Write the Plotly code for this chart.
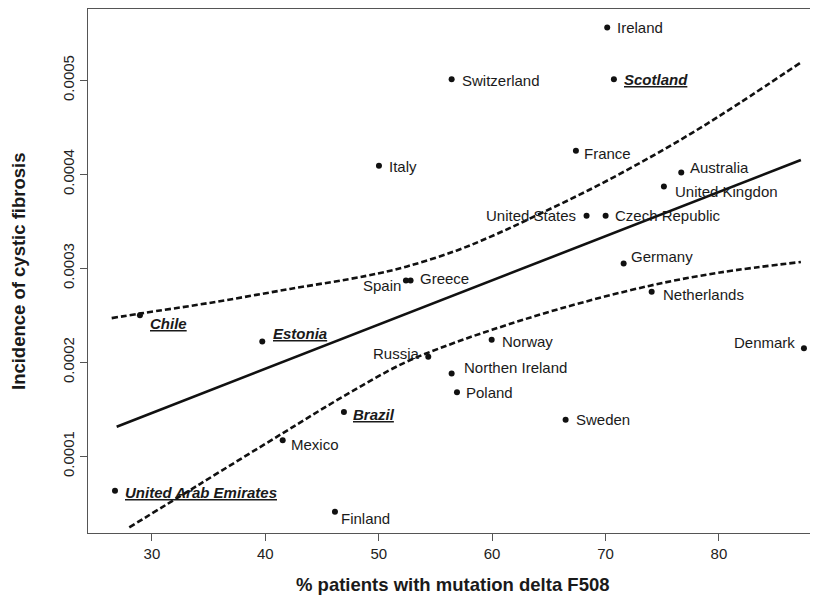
import plotly.graph_objects as go

# ---- data ----
countries = ["Ireland", "Switzerland", "Scotland", "France", "Italy", "Australia",
             "United Kingdon", "United States", "Czech Republic", "Germany",
             "Spain", "Greece", "Netherlands", "Chile", "Estonia", "Norway",
             "Russia", "Denmark", "Northen Ireland", "Poland", "Brazil",
             "Sweden", "Mexico", "United Arab Emirates", "Finland"]
pct_f508 = [70.15, 56.43, 70.74, 67.39, 50.02, 76.68,
            75.15, 68.33, 70.01, 71.60,
            52.40, 52.81, 74.07, 28.94, 39.73, 59.96,
            54.37, 87.50, 56.43, 56.90, 46.93,
            66.48, 41.53, 26.74, 46.14]
incidence = [0.000556, 0.000501, 0.000501, 0.000425, 0.000409, 0.000402,
             0.000387, 0.000356, 0.000356, 0.000305,
             0.000287, 0.000287, 0.000275, 0.000250, 0.000222, 0.000224,
             0.000206, 0.000215, 0.000188, 0.000168, 0.000147,
             0.000139, 0.000117, 0.0000634, 0.000041]
highlighted = ["Scotland", "Chile", "Estonia", "Brazil", "United Arab Emirates"]

# regression line and its confidence band
fit_x = [26.89, 87.23]
fit_y = [0.0001314, 0.0004152]
upper_x = [26.45, 29.03, 35.0, 42.17, 48.93, 52.5, 56.9, 60.5, 64.22, 68.5,
           73.03, 77.5, 81.85, 87.23]
upper_y = [0.000247, 0.000252, 0.000263, 0.000278, 0.000292, 0.000302, 0.000319,
           0.000337, 0.000358, 0.000383, 0.000412, 0.000443, 0.000476, 0.000519]
lower_x = [28.0, 34.23, 41.55, 46.84, 52.16, 56.28, 59.98, 65.98, 73.92, 80.09, 87.23]
lower_y = [0.0000244, 0.0000705, 0.0001247, 0.0001634, 0.0001989, 0.0002190,
           0.0002345, 0.0002570, 0.0002815, 0.0002955, 0.0003067]

x_ticks = [30, 40, 50, 60, 70, 80]
y_ticks = [0.0001, 0.0002, 0.0003, 0.0004, 0.0005]
y_tick_labels = ["0.0001", "0.0002", "0.0003", "0.0004", "0.0005"]

# ---- label placement (pixel offsets: anchor, xshift, yshift) ----
label_style = {
    "Ireland": ("left", 8, 0), "Switzerland": ("left", 8, -1), "Scotland": ("left", 8, 0),
    "France": ("left", 6, -3), "Italy": ("left", 8, -1), "Australia": ("left", 7, 5),
    "United Kingdon": ("left", 9, -5), "United States": ("right", -9, 0),
    "Czech Republic": ("left", 7, 0), "Germany": ("left", 5, 7),
    "Spain": ("right", -3, -5), "Greece": ("left", 7, 2), "Netherlands": ("left", 9, -3),
    "Chile": ("left", 8, -8), "Estonia": ("left", 9, 8), "Norway": ("left", 8, -2),
    "Russia": ("right", -6, 3), "Denmark": ("right", -7, 6),
    "Northen Ireland": ("left", 10, 6), "Poland": ("left", 7, 0), "Brazil": ("left", 7, -2),
    "Sweden": ("left", 8, 0), "Mexico": ("left", 6, -4),
    "United Arab Emirates": ("left", 8, -2), "Finland": ("left", 4, -7),
}

FONT = "Liberation Sans, Arial, Helvetica, sans-serif"
INK = "#1a1a1a"

fig = go.Figure()
fig.add_trace(go.Scatter(x=fit_x, y=fit_y, mode="lines",
                         line=dict(color="#111111", width=2.6), hoverinfo="skip"))
fig.add_trace(go.Scatter(x=upper_x, y=upper_y, mode="lines",
                         line=dict(color="#111111", width=2.6, dash="6px,3px", shape="spline"),
                         hoverinfo="skip"))
fig.add_trace(go.Scatter(x=lower_x, y=lower_y, mode="lines",
                         line=dict(color="#111111", width=2.6, dash="6px,3px", shape="spline"),
                         hoverinfo="skip"))
fig.add_trace(go.Scatter(x=pct_f508, y=incidence, mode="markers",
                         marker=dict(color="#111111", size=6), text=countries))

annotations = []
for name, xv, yv in zip(countries, pct_f508, incidence):
    anchor, dx, dy = label_style[name]
    txt = f"<b><i><u>{name}</u></i></b>" if name in highlighted else name
    annotations.append(dict(x=xv, y=yv, xref="x", yref="y", text=txt, showarrow=False,
                            xanchor=anchor, yanchor="middle", xshift=dx, yshift=dy,
                            font=dict(family=FONT, size=15, color=INK)))

# axis titles
annotations.append(dict(x=0.5, y=-0.099, xref="paper", yref="paper", showarrow=False,
                        text="<b>% patients with mutation delta F508</b>",
                        xanchor="center", yanchor="middle",
                        font=dict(family=FONT, size=18.5, color=INK)))
annotations.append(dict(x=-70 / 730, y=0.5, xref="paper", yref="paper", showarrow=False,
                        text="<b>Incidence of cystic fibrosis</b>", textangle=-90,
                        xanchor="center", yanchor="middle",
                        font=dict(family=FONT, size=18.5, color=INK)))

# the page body adds an 8px margin, so the figure is 8px smaller and shifted
fig.update_layout(
    width=810, height=593,
    margin=dict(l=80, r=0, t=1, b=68),
    paper_bgcolor="white", plot_bgcolor="white",
    showlegend=False,
    annotations=annotations,
    xaxis=dict(range=[24.36, 88.74], tickvals=x_ticks, ticks="outside", ticklen=7,
               tickcolor="#555", tickwidth=1.2, showgrid=False, zeroline=False,
               showline=True, linecolor="#555", linewidth=1.3, mirror=True,
               tickfont=dict(family=FONT, size=15, color="#222")),
    yaxis=dict(range=[0.0000184, 0.0005758], tickvals=y_ticks, ticktext=y_tick_labels,
               tickangle=-90, ticks="outside", ticklen=7, tickcolor="#555", tickwidth=1.2,
               showgrid=False, zeroline=False, showline=True, linecolor="#555",
               linewidth=1.3, tickfont=dict(family=FONT, size=15, color="#222")),
)

fig.write_html("out.html")
